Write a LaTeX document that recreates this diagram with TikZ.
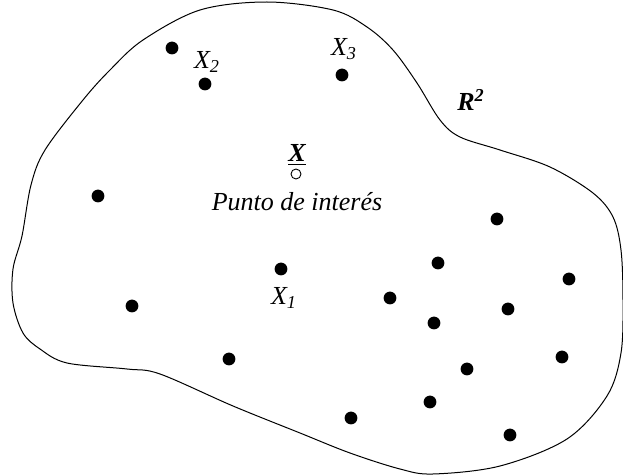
\documentclass[tikz,border=0pt]{standalone}
\usepackage{fontspec}
\setmainfont{Liberation Serif}
\begin{document}
\begin{tikzpicture}[x=0.5pt,y=-0.5pt,
  dot/.style={circle,fill=black,inner sep=0pt,minimum size=6.4pt},
  odot/.style={circle,draw=black,line width=0.45pt,fill=white,inner sep=0pt,minimum size=5pt},
  lbl/.style={inner sep=0pt,font=\fontsize{13}{15}\selectfont\itshape}]
\useasboundingbox (0,0) rectangle (623,476);
\draw[line width=0.5pt] plot[smooth cycle,tension=0.55] coordinates {
 (267,2) (333,10) (367,27) (393,50) (417,83) (440,120) (460,137) (500,150)
 (550,167) (593,193) (613,217) (621,250) (623,300) (621,353) (607,396)
 (567,439) (500,466) (433,474) (400,469) (350,453) (300,433) (233,406)
 (160,374) (127,369) (67,363) (40,349) (23,333) (13,303) (13,269) (22,236)
 (31,185) (45,150) (83,100) (110,70) (143,40) (200,10)};
% points
\node[dot] (p1) at (172,48) {};
\node[dot] (p2) at (205,84) {};
\node[dot] (p3) at (342,75) {};
\node[dot] (p4) at (98,196) {};
\node[dot] (p5) at (281,269) {};
\node[dot] (p6) at (132,306) {};
\node[dot] (p7) at (229,359) {};
\node[dot] (p8) at (497,219) {};
\node[dot] (p9) at (438,263) {};
\node[dot] (p10) at (569,279) {};
\node[dot] (p11) at (390,298) {};
\node[dot] (p12) at (508,309) {};
\node[dot] (p13) at (434,323) {};
\node[dot] (p14) at (562,357) {};
\node[dot] (p15) at (467,369) {};
\node[dot] (p16) at (430,402) {};
\node[dot] (p17) at (351,418) {};
\node[dot] (p18) at (510,435) {};
\node[odot] (x) at (296,174) {};
% labels
\node[lbl] (lx2) at (207,62) {X\textsubscript{2}};
\node[lbl] (lx3) at (344,49) {X\textsubscript{3}};
\node[lbl] (lx1) at (284,298) {X\textsubscript{1}};
\node[lbl,font=\fontsize{13}{15}\selectfont\bfseries\itshape] (lx) at (297,155) {\underline{X}};
\node[lbl] (lp) at (297,202) {Punto de interés};
\node[lbl,font=\fontsize{13}{15}\selectfont\bfseries\itshape] (lr) at (471,100) {R\textsuperscript{2}};
\end{tikzpicture}
\end{document}
